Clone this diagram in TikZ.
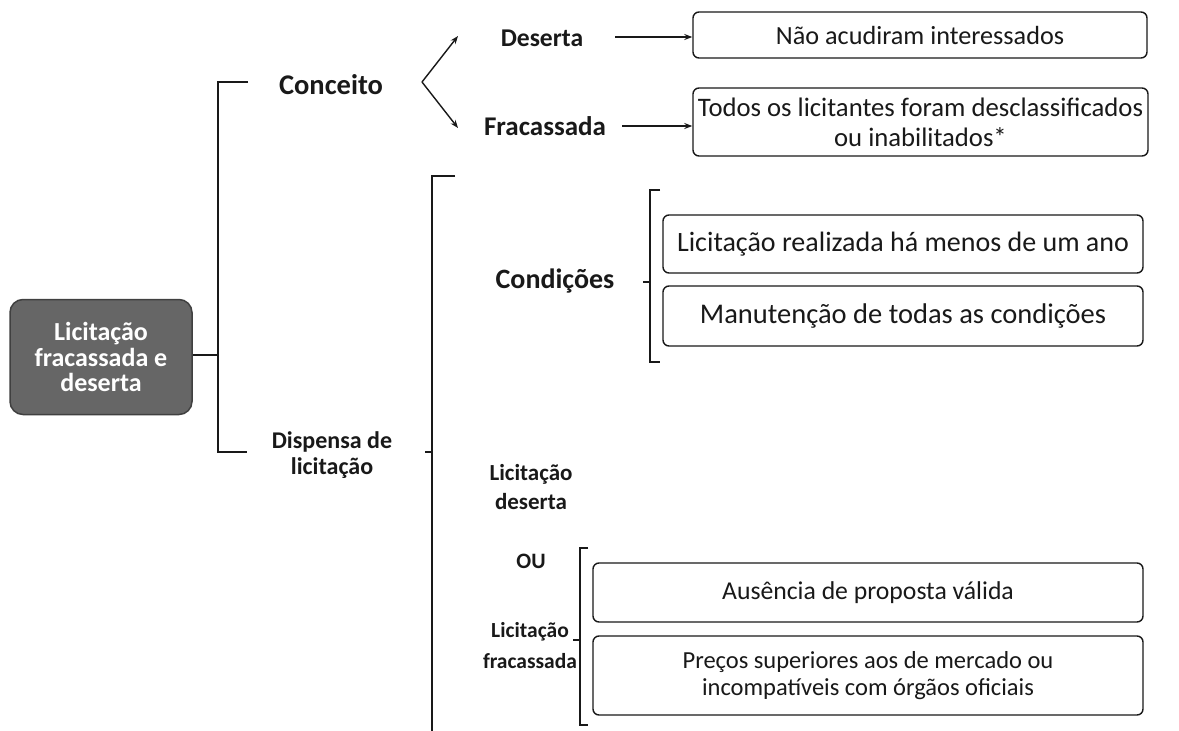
\documentclass[tikz,border=0pt]{standalone}
\usepackage{fontspec}
\setmainfont{Carlito}
\usetikzlibrary{arrows.meta}
\newcommand{\fsz}[2]{\fontsize{#1}{#2}\selectfont}
\begin{document}
\begin{tikzpicture}[x=1pt,y=-1pt,
  lbl/.style={align=center, text=black!90, inner sep=1pt},
  leaf/.style={draw=black!90, line width=1.4pt, rounded corners=6pt, align=center, text=black!90, inner sep=0pt},
  brk/.style={draw=black!90, line width=1.6pt},
  arr/.style={draw=black!90, line width=1.4pt, -{Stealth[length=8pt,width=6pt]}},
  main/.style={draw=black!75, line width=1.5pt, fill=black!60, rounded corners=13pt, align=center, text=white, inner sep=0pt}
]
\useasboundingbox (0,0) rectangle (1179,731);
\fill[white] (0,0) rectangle (1179,731);

% main node
\node[main, minimum width=182pt, minimum height=115pt, font=\fsz{26}{25.5}\bfseries] (root) at (101,357) {Licitação\\fracassada e\\deserta};

% level 1 bracket
\coordinate (b1) at (218,355);
\coordinate (b1t) at (218,82);
\coordinate (b1b) at (218,452);
\draw[brk] (root.east |- b1) -- (b1);
\draw[brk] (248,82) -- (b1t) -- (b1b) -- (247,452);

\node[lbl, font=\fsz{28.5}{30}\bfseries] (conc) at (331,85) {Conceito};
\node[lbl, font=\fsz{24}{26}\bfseries] (disp) at (332,455) {Dispensa de\\licitação};

% Conceito branch
\coordinate (v) at (422,82);
\node[lbl, font=\fsz{25.6}{28}\bfseries] (des) at (542,38) {Deserta};
\node[lbl, font=\fsz{27}{28}\bfseries] (frac) at (545,126) {Fracassada};
\coordinate (t1) at (458,36);
\coordinate (t2) at (458,128);
\draw[arr] (v) -- (t1);
\draw[arr] (v) -- (t2);

\node[leaf, minimum width=454pt, minimum height=46pt, font=\fsz{26.2}{30}] (na) at (920,35) {Não acudiram interessados};
\node[leaf, minimum width=455pt, minimum height=68pt, font=\fsz{26.7}{30}] (todos) at (920.5,122) {Todos os licitantes foram desclassificados\\ou inabilitados*};
\draw[arr] (615,37) -- (na.west |- 0,37);
\draw[arr] (622,126) -- (todos.west |- 0,126);

% Dispensa bracket
\draw[brk] (425,452) -- (432,452);
\draw[brk] (455,176) -- (432,176) -- (432,740);

% Condicoes
\node[lbl, font=\fsz{28}{30}\bfseries] (cond) at (555,281) {Condições};
\draw[brk] (643,282) -- (650,282);
\draw[brk] (660,190) -- (650,190) -- (650,362) -- (660,362);
\node[leaf, minimum width=480pt, minimum height=58pt, font=\fsz{28}{30}] (lic) at (903,244) {Licitação realizada há menos de um ano};
\node[leaf, minimum width=480pt, minimum height=60pt, font=\fsz{28.5}{30}] (man) at (903,316) {Manutenção de todas as condições};

% Licitacao deserta / OU / fracassada
\node[lbl, font=\fsz{23}{29}\bfseries] (ldes) at (531,487) {Licitação\\deserta};
\node[lbl, font=\fsz{22}{29}\bfseries] (ou) at (531,561) {OU};
\node[lbl, font=\fsz{21.5}{31}\bfseries] (lfra) at (530,646) {Licitação\\fracassada};
\draw[brk] (573,640) -- (580,640);
\draw[brk] (588,548) -- (580,548) -- (580,725) -- (588,725);
\node[leaf, minimum width=550pt, minimum height=59pt, font=\fsz{25.7}{30}] (aus) at (868,592.5) {Ausência de proposta válida};
\node[leaf, minimum width=550pt, minimum height=79pt, font=\fsz{24.5}{26.5}] (pre) at (868,675.5) {Preços superiores aos de mercado ou\\incompatíveis com órgãos oficiais};
\end{tikzpicture}
\end{document}
